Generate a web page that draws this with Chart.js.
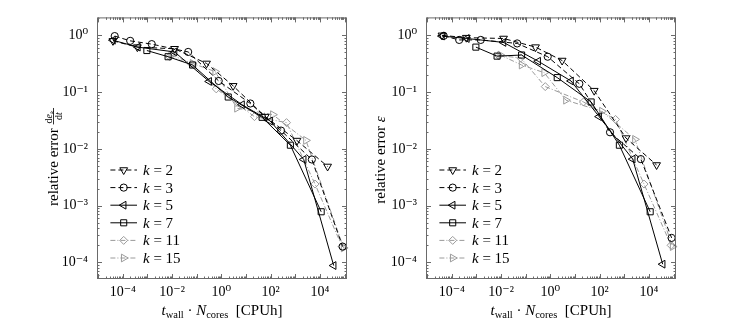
<!DOCTYPE html>
<html>
<head>
<meta charset="utf-8">
<script src="https://cdn.jsdelivr.net/npm/chart.js@4.4.1/dist/chart.umd.min.js"></script>
<style>
  html, body { margin: 0; padding: 0; background: #fff; }
  #wrap { position: relative; width: 747px; height: 333px; }
  canvas { position: absolute; top: 0; }
  #left { left: 0; }
  #right { left: 374px; }
</style>
</head>
<body>
<div id="wrap">
  <canvas id="left" width="373" height="333"></canvas>
  <canvas id="right" width="373" height="333"></canvas>
</div>
<script>
// polynomial degrees
const kLabels = ["2", "3", "5", "7", "11", "15"];

// cost t_wall * N_cores [CPUh], same runs in both panels
const costK2 = [4.0e-5, 3.9e-4, 0.0126, 0.25, 3.0, 60, 1170, 20400];
const costK3 = [4.7e-5, 2.0e-4, 1.5e-3, 0.045, 0.78, 15, 263, 4680, 83000];
const costK5 = [4.0e-5, 4.1e-4, 0.0126, 0.32, 6.9, 95, 2190, 36000];
const costK7 = [9.5e-4, 6.9e-3, 0.068, 1.9, 45, 630, 11200];
const costK11 = [7.9e-3, 0.063, 0.62, 22, 440, 6300, 79000];
const costK15 = [9.3e-3, 0.068, 0.56, 4.3, 123, 2700, 91000];

// left panel: relative error of d e_k / dt
const rateK2 = [0.80, 0.62, 0.58, 0.32, 0.129, 0.037, 0.014, 0.0049];
const rateK3 = [0.97, 0.80, 0.70, 0.51, 0.157, 0.063, 0.021, 0.0065, 1.9e-4];
const rateK5 = [0.82, 0.62, 0.51, 0.154, 0.06, 0.031, 0.0065, 8.8e-5];
const rateK7 = [0.54, 0.42, 0.30, 0.082, 0.036, 0.0116, 7.8e-4];
const rateK11 = [0.42, 0.31, 0.114, 0.037, 0.029, 0.0024, 1.9e-4];
const rateK15 = [0.45, 0.32, 0.23, 0.052, 0.040, 0.0141, 1.8e-4];

// right panel: relative error epsilon
const epsK2 = [1.0, 0.91, 0.88, 0.62, 0.36, 0.106, 0.0155, 0.0052];
const epsK3 = [0.98, 0.83, 0.83, 0.72, 0.42, 0.14, 0.0196, 0.0066, 2.7e-4];
const epsK5 = [0.97, 0.88, 0.75, 0.35, 0.157, 0.037, 0.0066, 9.3e-5];
const epsK7 = [0.62, 0.43, 0.45, 0.18, 0.067, 0.0116, 7.8e-4];
const epsK11 = [0.44, 0.40, 0.125, 0.067, 0.033, 0.0024, 2.0e-4];
const epsK15 = [0.45, 0.30, 0.22, 0.072, 0.046, 0.0147, 1.9e-4];

const xTicks = [1e-4, 1e-2, 1, 1e2, 1e4];
const yTicks = [1e-4, 1e-3, 1e-2, 1e-1, 1];

const costs = [costK2, costK3, costK5, costK7, costK11, costK15];

const styles = [
  { color: "#000", dash: [5, 3], point: "triangle", rot: 180, r: 4.5 },
  { color: "#000", dash: [5, 3], point: "circle", rot: 0, r: 3.6 },
  { color: "#000", dash: [], point: "triangle", rot: 270, r: 4.5 },
  { color: "#000", dash: [], point: "rect", rot: 0, r: 4.3 },
  { color: "#9a9a9a", dash: [5, 2, 1, 2], point: "rectRot", rot: 0, r: 4 },
  { color: "#9a9a9a", dash: [5, 2, 1, 2], point: "triangle", rot: 90, r: 4.5 },
];

const SERIF = "'Liberation Serif', 'DejaVu Serif', serif";
const sup = { "-": "⁻", "0": "⁰", "1": "¹", "2": "²", "3": "³", "4": "⁴", "5": "⁵" };
const powLabel = (v) => "10" + String(Math.round(Math.log10(v))).split("").map((c) => sup[c]).join("");

function drawRich(ctx, parts, x, y, align) {
  let w = 0;
  parts.forEach((p) => { ctx.font = p.font; p.w = ctx.measureText(p.t).width; w += p.w; });
  let cx = align === "center" ? x - w / 2 : x;
  ctx.textBaseline = "alphabetic";
  ctx.textAlign = "left";
  parts.forEach((p) => {
    ctx.font = p.font;
    ctx.fillText(p.t, cx, y + (p.dy || 0));
    cx += p.w;
  });
  return w;
}

function boxPlugin(cfg) {
  return {
    id: "box",
    afterDraw(chart) {
      const ctx = chart.ctx;
      const a = chart.chartArea;
      const xs = chart.scales.x, ys = chart.scales.y;
      ctx.save();
      ctx.strokeStyle = "#6a6a6a";
      ctx.lineWidth = 1;
      ctx.setLineDash([]);
      ctx.strokeRect(a.left + 0.5, a.top + 0.5, a.right - a.left - 1, a.bottom - a.top - 1);
      ctx.beginPath();
      for (let d = -6; d <= 6; d++) {
        for (let m = 1; m <= 9; m++) {
          const v = m * Math.pow(10, d);
          const len = m === 1 ? 5 : 2.5;
          if (v > xs.min && v < xs.max) {
            const px = Math.round(xs.getPixelForValue(v)) + 0.5;
            ctx.moveTo(px, a.bottom); ctx.lineTo(px, a.bottom - len);
            ctx.moveTo(px, a.top); ctx.lineTo(px, a.top + len);
          }
          if (v > ys.min && v < ys.max) {
            const py = Math.round(ys.getPixelForValue(v)) + 0.5;
            ctx.moveTo(a.left, py); ctx.lineTo(a.left + len, py);
            ctx.moveTo(a.right, py); ctx.lineTo(a.right - len, py);
          }
        }
      }
      ctx.stroke();

      // legend
      ctx.fillStyle = "#000";
      chart.data.datasets.forEach((ds, i) => {
        const st = styles[i];
        const ry = a.bottom - 21 - (5 - i) * 17.6;
        const x0 = a.left + 13.4, x1 = a.left + 40;
        ctx.strokeStyle = st.color;
        ctx.lineWidth = 1;
        ctx.setLineDash(st.dash);
        ctx.beginPath();
        ctx.moveTo(x0, ry); ctx.lineTo(x1, ry);
        ctx.stroke();
        ctx.setLineDash([]);
        ctx.fillStyle = "rgba(0,0,0,0)";
        Chart.helpers.drawPoint(ctx, { pointStyle: st.point, rotation: st.rot, radius: st.r, borderWidth: 1 }, (x0 + x1) / 2, ry);
        ctx.fillStyle = "#000";
        drawRich(ctx, [
          { t: "k", font: "italic 15px " + SERIF },
          { t: " = " + kLabels[i], font: "15px " + SERIF },
        ], a.left + 46, ry + 5, "left");
      });

      // x title
      ctx.fillStyle = "#000";
      drawRich(ctx, [
        { t: "t", font: "italic 15px " + SERIF },
        { t: "wall", font: "10.5px " + SERIF, dy: 3 },
        { t: " · ", font: "15px " + SERIF },
        { t: "N", font: "italic 15px " + SERIF },
        { t: "cores", font: "10.5px " + SERIF, dy: 3 },
        { t: "  [CPUh]", font: "15px " + SERIF },
      ], (a.left + a.right) / 2, 315, "center");

      // y title
      ctx.save();
      ctx.translate(cfg.yTitleX, cfg.yTitleY);
      ctx.rotate(-Math.PI / 2);
      cfg.drawYTitle(ctx);
      ctx.restore();
      ctx.restore();
    },
  };
}

function makeChart(id, vals, cfg) {
  const datasets = vals.map((v, i) => ({
    label: "k = " + kLabels[i],
    data: costs[i].map((c, j) => ({ x: c, y: v[j] })),
    borderColor: styles[i].color,
    borderWidth: 1,
    borderDash: styles[i].dash,
    backgroundColor: "rgba(0,0,0,0)",
    pointStyle: styles[i].point,
    pointRotation: styles[i].rot,
    pointRadius: styles[i].r,
    pointBorderColor: styles[i].color,
    pointBackgroundColor: "rgba(0,0,0,0)",
    pointBorderWidth: 1,
    tension: 0,
    clip: false,
  }));
  return new Chart(document.getElementById(id), {
    type: "line",
    data: { datasets },
    options: {
      responsive: false,
      animation: false,
      devicePixelRatio: 1,
      layout: { padding: { left: 0, right: cfg.padRight, top: 7, bottom: 0 } },
      plugins: { legend: { display: false }, tooltip: { enabled: false } },
      scales: {
        x: {
          type: "logarithmic",
          min: 9e-6,
          max: 1.25e5,
          grid: { display: false, drawTicks: false },
          border: { display: false },
          afterBuildTicks: (s) => { s.ticks = xTicks.map((v) => ({ value: v })); },
          afterFit: (s) => { s.height = 54; },
          ticks: {
            padding: 5,
            maxRotation: 0,
            color: "#000",
            font: { family: SERIF, size: 14 },
            callback: (v) => powLabel(v),
          },
        },
        y: {
          type: "logarithmic",
          min: 5.1e-5,
          max: 2.07,
          grid: { display: false, drawTicks: false },
          border: { display: false },
          afterBuildTicks: (s) => { s.ticks = yTicks.map((v) => ({ value: v })); },
          afterFit: (s) => { s.width = cfg.yWidth; },
          ticks: {
            padding: 9,
            color: "#000",
            font: { family: SERIF, size: 14 },
            callback: (v) => powLabel(v),
          },
        },
      },
    },
    plugins: [boxPlugin(cfg)],
  });
}

makeChart("left", [rateK2, rateK3, rateK5, rateK7, rateK11, rateK15], {
  yWidth: 97,
  padRight: 26,
  yTitleX: 57.5,
  yTitleY: 157,
  drawYTitle(ctx) {
    ctx.fillStyle = "#000";
    ctx.font = "15px " + SERIF;
    const label = "relative error ";
    const lw = ctx.measureText(label).width;
    ctx.font = "10px " + SERIF;
    const numW = ctx.measureText("de").width + 5;
    const fw = numW + 2;
    const x0 = -(lw + fw) / 2;
    drawRich(ctx, [{ t: label, font: "15px " + SERIF }], x0, 0, "left");
    const fx = x0 + lw;
    drawRich(ctx, [
      { t: "d", font: "10px " + SERIF },
      { t: "e", font: "italic 10px " + SERIF },
      { t: "k", font: "italic 7px " + SERIF, dy: 1.5 },
    ], fx + 1, -5.5, "left");
    ctx.fillRect(fx, -4.3, fw, 0.8);
    drawRich(ctx, [
      { t: "d", font: "10px " + SERIF },
      { t: "t", font: "italic 10px " + SERIF },
    ], fx + fw / 2, 4.5, "center");
  },
});

makeChart("right", [epsK2, epsK3, epsK5, epsK7, epsK11, epsK15], {
  yWidth: 52,
  padRight: 71,
  yTitleX: 10.5,
  yTitleY: 160,
  drawYTitle(ctx) {
    ctx.fillStyle = "#000";
    drawRich(ctx, [
      { t: "relative error ", font: "15px " + SERIF },
      { t: "ε", font: "italic 15px " + SERIF },
    ], 0, 0, "center");
  },
});
</script>
</body>
</html>
